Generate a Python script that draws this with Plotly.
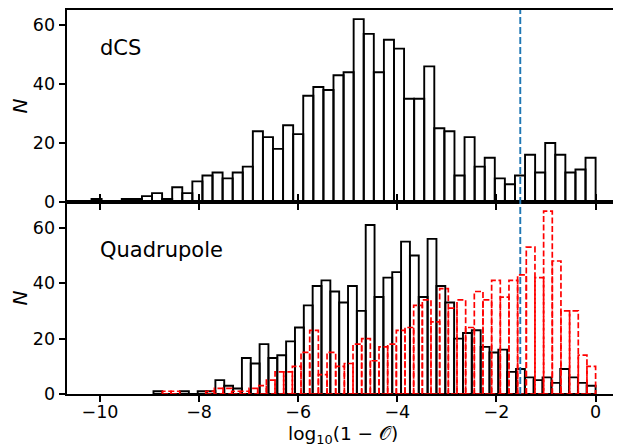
import numpy as np
import plotly.graph_objects as go

# ---------------------------------------------------------
# counts per bin (50 bins each)
# ---------------------------------------------------------
dcs_counts = [1, 0, 0, 1, 1, 2, 3, 1, 5, 3,
              7, 9, 10, 8, 10, 12, 24, 22, 18, 26,
              23, 36, 39, 38, 43, 44, 62, 57, 44, 55,
              52, 35, 35, 46, 25, 24, 9, 22, 12, 15,
              8, 6, 9, 16, 10, 20, 16, 10, 11, 15]

quad_counts = [1, 0, 0, 1, 0, 1, 1, 5, 3, 2,
               13, 11, 18, 13, 14, 19, 24, 32, 39, 41,
               37, 33, 39, 30, 61, 35, 42, 44, 55, 50,
               35, 56, 39, 33, 20, 22, 23, 17, 15, 16,
               8, 9, 6, 5, 6, 4, 9, 6, 4, 3]

quad_red_counts = [1, 1, 0, 0, 0, 1, 2, 2, 1, 1,
                   2, 3, 5, 8, 8, 10, 15, 23, 7, 15,
                   10, 11, 18, 20, 12, 17, 18, 23, 24, 32,
                   34, 26, 38, 31, 34, 24, 37, 34, 41, 35,
                   41, 43, 53, 42, 66, 48, 30, 30, 14, 10]

# lower end of each histogram range (all of them stop at 0)
dcs_lo = -10.17
quad_lo = -8.92
red_lo = -8.74

cut = -1.52          # vertical dashed threshold
xticks = [-10, -8, -6, -4, -2, 0]
yticks = [0, 20, 40, 60]

x_range = [-10.665, 0.472]
top_range = [0, 65.1]
bot_range = [0, 69.3]


def bins(lo, counts):
    edges = np.linspace(lo, 0, len(counts) + 1)
    return edges, (edges[:-1] + edges[1:]) / 2, edges[1] - edges[0]


def outline(edges, counts):
    # open rectangles, one per bin, for the dashed histogram
    xs, ys = [], []
    for a, b, c in zip(edges[:-1], edges[1:], counts):
        if c == 0:
            continue
        xs += [a, a, b, b, a, None]
        ys += [0, c, c, 0, 0, None]
    return xs, ys


fig = go.Figure()

_, c_top, w_top = bins(dcs_lo, dcs_counts)
fig.add_trace(go.Bar(
    x=c_top, y=dcs_counts, width=w_top, xaxis="x2", yaxis="y2",
    marker=dict(color="rgba(0,0,0,0)", line=dict(color="black", width=1.9)),
    showlegend=False
))

_, c_bot, w_bot = bins(quad_lo, quad_counts)
fig.add_trace(go.Bar(
    x=c_bot, y=quad_counts, width=w_bot, xaxis="x", yaxis="y",
    marker=dict(color="rgba(0,0,0,0)", line=dict(color="black", width=1.9)),
    showlegend=False
))

e_red, _, _ = bins(red_lo, quad_red_counts)
rx, ry = outline(e_red, quad_red_counts)
fig.add_trace(go.Scatter(
    x=rx, y=ry, mode="lines", xaxis="x", yaxis="y",
    line=dict(color="red", width=1.7, dash="6px,2.6px"),
    showlegend=False, hoverinfo="skip"
))

# ---------------------------------------------------------
# axes: matplotlib-like frame, "inout" ticks built from an
# outward axis plus an overlaid inward one
# ---------------------------------------------------------
tick_font = dict(family="DejaVu Sans", size=17.5, color="black")
base = dict(showgrid=False, zeroline=False, tickcolor="black", automargin=False,
            ticklen=6.5, tickwidth=1.8, tickfont=tick_font)

xa = dict(base, range=x_range, tickvals=xticks, ticks="outside",
          showline=True, linecolor="black", linewidth=1.8, mirror="ticks",
          ticklabelstandoff=-5)
xa_in = dict(base, range=x_range, tickvals=xticks, ticks="inside",
             showline=False, mirror="ticks", showticklabels=False)
ya = dict(base, tickvals=yticks, ticks="outside", showline=True,
          linecolor="black", linewidth=1.8, mirror=True,
          title=dict(text="<i>N</i>", standoff=6,
                     font=dict(family="DejaVu Sans", size=20, color="black")))
ya_in = dict(base, tickvals=yticks, ticks="inside", showline=False,
             showticklabels=False)

# the page body adds an 8px offset, so the figure is sized/margined for that
fig.update_layout(
    xaxis=dict(xa, anchor="y"),
    xaxis2=dict(xa, anchor="y2", showticklabels=False),
    xaxis3=dict(xa_in, anchor="y", overlaying="x"),
    xaxis4=dict(xa_in, anchor="y2", overlaying="x2"),
    yaxis=dict(ya, anchor="x", domain=[0, 0.5], range=bot_range),
    yaxis2=dict(ya, anchor="x2", domain=[0.5, 1], range=top_range),
    yaxis3=dict(ya_in, anchor="x", overlaying="y", range=bot_range),
    yaxis4=dict(ya_in, anchor="x2", overlaying="y2", range=top_range),
    barmode="overlay",
    width=613, height=438,
    margin=dict(l=59, r=2, t=2, b=52),
    plot_bgcolor="white", paper_bgcolor="white",
    font=dict(family="DejaVu Sans", color="black"),
)

# x-axis label placed as an annotation so it sits clear of the tick labels
fig.add_annotation(text="log<sub>10</sub>(1 \u2212 \U0001D4AA)", xref="x domain", yref="paper",
                   x=0.5, y=-0.108, xanchor="center", yanchor="middle", showarrow=False,
                   borderpad=0, font=dict(family="DejaVu Sans", size=18.5, color="black"))

# threshold line through both panels
fig.add_shape(type="line", xref="x", yref="paper", x0=cut, x1=cut, y0=0, y1=1,
              line=dict(color="#1f77b4", width=1.9, dash="7px,3px"))

# panel labels
fig.add_annotation(text="dCS", xref="x2 domain", yref="y2 domain", x=0.056, y=0.80,
                   xanchor="left", yanchor="middle", showarrow=False,
                   font=dict(family="DejaVu Sans", size=21, color="black"))
fig.add_annotation(text="Quadrupole", xref="x domain", yref="y domain", x=0.056, y=0.75,
                   xanchor="left", yanchor="middle", showarrow=False,
                   font=dict(family="DejaVu Sans", size=21, color="black"))

fig.write_html("out.html")
